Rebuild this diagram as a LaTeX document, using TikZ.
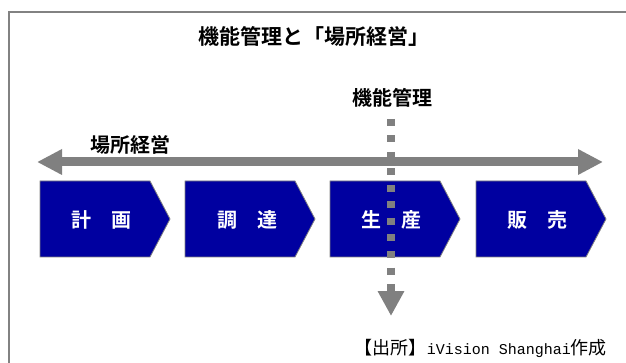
\documentclass[tikz,border=0pt]{standalone}
\usepackage{fontspec}
\setmainfont{Noto Sans CJK JP}[BoldFont={Noto Sans CJK JP Bold}]
\newfontfamily\latinmono{Liberation Mono}
\usetikzlibrary{arrows.meta}
\definecolor{arrgray}{RGB}{128,128,128}
\definecolor{chevblue}{RGB}{0,0,160}
\definecolor{framegray}{RGB}{130,130,130}
\tikzset{
  chevron/.style={fill=chevblue, draw=arrgray, line width=0.8pt},
  chevlabel/.style={text=white, font=\bfseries\fontsize{20}{20}\selectfont, inner sep=0pt},
  headlabel/.style={font=\bfseries\fontsize{20}{20}\selectfont, inner sep=0pt},
}
\begin{document}
\begin{tikzpicture}[x=1pt,y=-1pt]
\useasboundingbox (0,0) rectangle (626,363);
% frame
\draw[framegray, line width=2pt] (9,364) -- (9,12) -- (627,12);
% title
\node[headlabel, font=\bfseries\fontsize{21}{21}\selectfont] (title) at (314,36) {機能管理と「場所経営」};
% chevrons
\foreach \L/\name in {40/c1,185/c2,330/c3,476/c4}{
  \draw[chevron] (\L,181) -- (\L+110,181) -- (\L+130,219) -- (\L+110,257) -- (\L,257) -- cycle;
}
\node[chevlabel] (l1) at (101,220) {計　画};
\node[chevlabel] (l2) at (247,220) {調　達};
\node[chevlabel] (l3) at (391,220) {生　産};
\node[chevlabel] (l4) at (537,220) {販　売};
% horizontal double arrow
\coordinate (hl) at (37,162);
\coordinate (hr) at (603,162);
\draw[arrgray, line width=9pt, {Triangle[width=24pt,length=25pt]}-{Triangle[width=24pt,length=25pt]}] (hl) -- (hr);
\node[headlabel] (basho) at (130,145) {場所経営};
% functional management label and dotted arrow
\node[headlabel] (kino) at (392,98) {機能管理};
\coordinate (vtop) at (391,119);
\coordinate (vbot) at (391,316);
\draw[arrgray, line width=8pt, dash pattern=on 7pt off 9.5pt, -{Triangle[width=25pt,length=25pt]}] (vtop) -- (vbot);
% caption
\node[anchor=east, inner sep=0pt, font=\fontsize{18}{18}\selectfont] (src) at (607,348) {【出所】{\latinmono\fontsize{15}{15}\selectfont iVision Shanghai}作成};
\end{tikzpicture}
\end{document}
